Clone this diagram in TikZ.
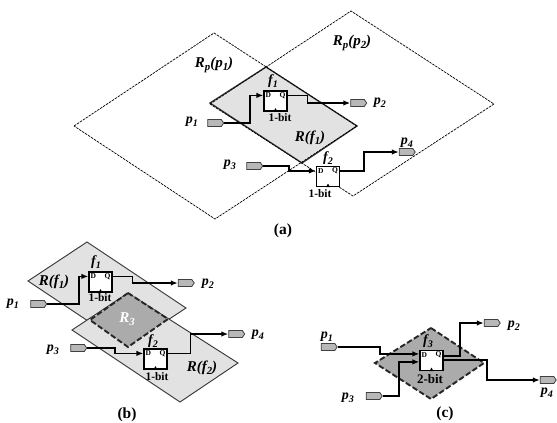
\documentclass[tikz,border=0pt]{standalone}
\usepackage{fontspec}
\setmainfont{Liberation Serif}
\usetikzlibrary{shapes.symbols,arrows.meta}
\definecolor{regionlight}{HTML}{E2E2E2}
\definecolor{regiondark}{HTML}{ABABAB}
\definecolor{portgray}{HTML}{B8B8B8}
\newcommand{\low}[1]{\raisebox{-.22em}{\scalebox{.72}{#1}}}
\tikzset{
  pinlabel/.style={font=\bfseries\itshape\fontsize{14}{14}\selectfont,inner sep=0pt},
  regionlabel/.style={font=\bfseries\itshape\fontsize{15}{15}\selectfont,inner sep=0pt},
  bitlabel/.style={font=\bfseries\fontsize{11.5}{12}\selectfont,inner sep=0pt},
  caption/.style={font=\bfseries\fontsize{15.5}{16}\selectfont,inner sep=0pt},
  dqlabel/.style={font=\bfseries\fontsize{7.5}{8}\selectfont,inner sep=0pt},
  ffbox/.style={draw,line width=1.2pt,fill=white,minimum width=23pt,minimum height=20pt,inner sep=0pt},
  porttag/.style={signal,signal to=east,draw=black!75,line width=.8pt,fill=portgray,minimum width=16pt,minimum height=7pt,inner sep=0pt,signal pointer angle=110},
  wire/.style={line width=1.7pt,-{Latex[length=7pt,width=5.5pt]}},
  wirethick/.style={line width=2.2pt},
  regionpath/.style={draw=black!80,line width=.9pt,fill=regionlight},
  rangepath/.style={draw=black,line width=.7pt,dash pattern=on 2.5pt off 1pt},
  sharedpath/.style={draw=black!85,line width=1.9pt,dash pattern=on 5.5pt off 2.5pt,fill=regiondark}
}
\newcommand{\flipflop}[3]{%
  \node[ffbox] (#1) at (#2,#3) {};
  \node[dqlabel] (#1D) at ([xshift=5pt,yshift=-5pt]#1.north west) {D};
  \node[dqlabel] (#1Q) at ([xshift=-5pt,yshift=-5pt]#1.north east) {Q};
  \coordinate (#1in) at ([yshift=-5pt]#1.north west);
  \coordinate (#1out) at ([yshift=-5pt]#1.north east);
  \fill ([xshift=-2pt]#1.south) -- ([yshift=3.5pt]#1.south) -- ([xshift=2pt]#1.south) -- cycle;
}
\begin{document}
\begin{tikzpicture}[x=1pt,y=-1pt]
\useasboundingbox (0,0) rectangle (557,423);
\fill[white] (0,0) rectangle (557,423);

% ---- (a)
\filldraw[regionpath,line width=1.3pt] (266,67) -- (357,126) -- (302,163) -- (210,103) -- cycle;
\draw[rangepath] (74,126) -- (214,33) -- (357,126) -- (215,219) -- cycle;
\draw[rangepath] (210,104) -- (351,11) -- (494,104) -- (353,196) -- cycle;
\node[regionlabel] (aRp1) at (214,65) {R\low{p}(p\low{1})};
\node[regionlabel] (aRp2) at (352,43) {R\low{p}(p\low{2})};
\node[regionlabel] (aRf1) at (310,138) {R(f\low{1})};
\flipflop{af1}{275.5}{101}
\flipflop{af2}{328}{176.5}
\node[pinlabel] (alf1) at (273,81) {f\low{1}};
\node[pinlabel] (alf2) at (328,158) {f\low{2}};
\node[bitlabel] (ab1) at (280,118) {1-bit};
\node[bitlabel] (ab2) at (320,194) {1-bit};
\node[porttag] (ap1) at (214.5,123) {};
\node[porttag] (ap2) at (357.5,103) {};
\node[porttag] (ap3) at (253.5,166) {};
\node[porttag] (ap4) at (406,152) {};
\node[pinlabel] (alp1) at (192,122) {p\low{1}};
\node[pinlabel] (alp2) at (380,103) {p\low{2}};
\node[pinlabel] (alp3) at (230,165) {p\low{3}};
\node[pinlabel] (alp4) at (407,143) {p\low{4}};
\draw[wire] (ap1.east) -- ++(26,0) |- (af1in);
\draw[wire] (af1out) -- ++(20,0) |- (ap2.west);
\draw[wire] (ap3.east) -- ++(26,0) |- (af2in);
\draw[wire] (af2out) -- ++(24,0) |- (ap4.west);
\node[caption] (capa) at (283,231) {(a)};

% ---- (b)
\filldraw[regionpath] (28,281) -- (87,242) -- (186,308) -- (127,347) -- cycle;
\filldraw[regionpath] (72,330) -- (128,293) -- (238,363) -- (180,402) -- cycle;
\filldraw[sharedpath] (128,293) -- (168,319) -- (128,347) -- (90,320) -- cycle;
\node[regionlabel,text=white] (bR3) at (127,319) {R\low{3}};
\node[regionlabel] (bRf1) at (54,282) {R(f\low{1})};
\node[regionlabel] (bRf2) at (202,368) {R(f\low{2})};
\flipflop{bf1}{100.5}{282}
\flipflop{bf2}{155.5}{359}
\node[pinlabel] (blf1) at (96,262) {f\low{1}};
\node[pinlabel] (blf2) at (153,341) {f\low{2}};
\node[bitlabel] (bb1) at (100,298) {1-bit};
\node[bitlabel] (bb2) at (157,377) {1-bit};
\node[porttag] (bp1) at (37.5,304) {};
\node[porttag] (bp2) at (185,283) {};
\node[porttag] (bp3) at (77.5,348) {};
\node[porttag] (bp4) at (235.5,334) {};
\node[pinlabel] (blp1) at (13,304) {p\low{1}};
\node[pinlabel] (blp2) at (208,284) {p\low{2}};
\node[pinlabel] (blp3) at (53,350) {p\low{3}};
\node[pinlabel] (blp4) at (258,335) {p\low{4}};
\draw[wire] (bp1.east) -- ++(32,0) |- (bf1in);
\draw[wire] (bf1out) -- ++(20,0) |- (bp2.west);
\draw[wire] (bp3.east) -- ++(28,0) |- (bf2in);
\draw[wire] (bf2out) -- ++(23,0) |- (bp4.west);
\node[caption] (capb) at (127,415) {(b)};

% ---- (c)
\filldraw[sharedpath] (431,328) -- (484,363) -- (431,399) -- (375,363) -- cycle;
\flipflop{cf3}{431.5}{360.5}
\node[pinlabel] (clf3) at (428,341) {f\low{3}};
\node[bitlabel,font=\bfseries\fontsize{13}{13}\selectfont] (cb3) at (430,379) {2-bit};
\node[porttag] (cp1) at (328,347) {};
\node[porttag] (cp2) at (491,323) {};
\node[porttag] (cp3) at (373,396) {};
\node[porttag] (cp4) at (547,380) {};
\node[pinlabel] (clp1) at (327,337) {p\low{1}};
\node[pinlabel] (clp2) at (514,326) {p\low{2}};
\node[pinlabel] (clp3) at (348,398) {p\low{3}};
\node[pinlabel] (clp4) at (547,393) {p\low{4}};
\coordinate (cin1) at ([yshift=-4pt]cf3.north west);
\coordinate (cin2) at ([yshift=-12pt]cf3.north west);
\coordinate (cout1) at ([yshift=-6pt]cf3.north east);
\coordinate (cout2) at ([yshift=-10pt]cf3.north east);
\draw[wire] (cp1.east) -- ++(42,0) |- (cin1);
\draw[wire,wirethick] (cp3.east) -- ++(16,0) |- (cin2);
\draw[wire,wirethick] (cout1) -- ++(16,0) |- (cp2.west);
\draw[wire,wirethick] (cout2) -- ++(43,0) |- (cp4.west);
\node[caption] (capc) at (445,414) {(c)};
\end{tikzpicture}
\end{document}
